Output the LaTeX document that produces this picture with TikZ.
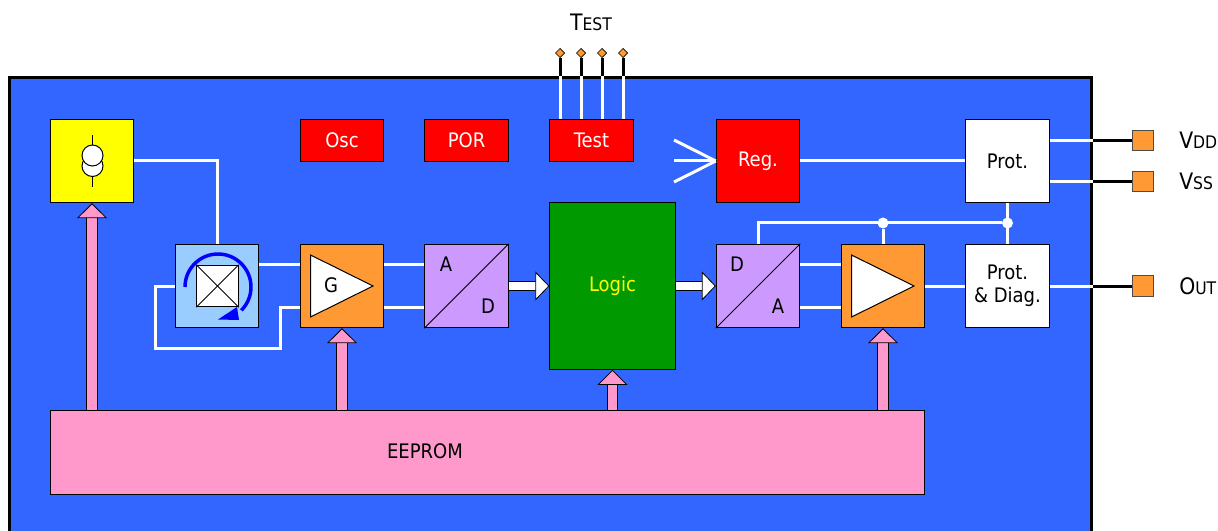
\documentclass[tikz,border=0pt]{standalone}
\usepackage{fontspec}
\setmainfont{DejaVu Sans Condensed}
\usetikzlibrary{arrows.meta,shapes.geometric}
\definecolor{chipblue}{HTML}{3366FF}
\definecolor{pinorange}{HTML}{FF9933}
\definecolor{adpurple}{HTML}{CC99FF}
\definecolor{prompink}{HTML}{FF99CC}
\definecolor{logicgreen}{HTML}{009900}
\definecolor{rotblue}{HTML}{99CCFF}
\definecolor{biasyellow}{HTML}{FFFF00}
\newcommand{\capsmall}[2]{{\fontsize{17}{20}\selectfont #1}{\fontsize{13}{15}\selectfont #2}}
\tikzset{
	block/.style={draw=black,line width=0.75pt,inner sep=0pt,minimum width=62.5pt,minimum height=62.5pt,text=black},
	redbox/.style={block,fill=red,text=white},
	lowbox/.style={redbox,minimum height=31.5pt},
	wire/.style={draw=white,line width=2.25pt},
	lead/.style={draw=black,line width=2.25pt},
	pad/.style={draw=black!70,fill=pinorange,line width=0.75pt,inner sep=0pt,minimum size=15.5pt},
	testpad/.style={diamond,draw=black,fill=pinorange,line width=0.5pt,inner sep=0pt,minimum size=7pt},
	joint/.style={circle,fill=white,inner sep=0pt,minimum size=8.25pt},
	plain/.style={draw=none,inner sep=0pt},
	amp/.style={draw=black,fill=white,line width=0.75pt},
	pinkarrow/.style={line width=0.6pt,draw=black,double=prompink,double distance=7.2pt,-{Triangle[length=11.25pt,width=22.5pt,fill=prompink,line width=0.6pt]}},
	whitearrow/.style={line width=0.6pt,draw=black,double=white,double distance=6.6pt,-{Triangle[length=10.5pt,width=21.75pt,fill=white,line width=0.6pt]}}
}
\begin{document}
\begin{tikzpicture}[x=0.75pt,y=-0.75pt,font=\fontsize{15}{18}\selectfont]
\clip (0,0) rectangle (1218,531);
\useasboundingbox (0,0) rectangle (1218,531);

\path (550,318) node[draw=black,line width=2.25pt,fill=chipblue,inner sep=0pt,minimum width=811.5pt,minimum height=360pt] (chip) {};

% top row
\path (92,161) node[block,fill=biasyellow] (bias) {};
\path (342,140.5) node[lowbox] (osc) {Osc};
\path (466.5,140.5) node[lowbox] (por) {POR};
\path (591.5,140.5) node[lowbox] (test) {Test};
\path (758,161) node[redbox] (reg) {Reg.};
\path (1007.5,161) node[block,fill=white] (prot) {Prot.};

% signal row
\path (217,286) node[block,fill=rotblue] (rot) {};
\path (342,286) node[block,fill=pinorange] (gain) {};
\path (466.5,286) node[block,fill=adpurple] (adc) {};
\path (612.5,286) node[block,fill=logicgreen,minimum width=94pt,minimum height=125pt,text=biasyellow] (logic) {Logic};
\path (758,286) node[block,fill=adpurple] (dac) {};
\path (883,286) node[block,fill=pinorange] (out) {};
\path (1007.5,286) node[block,fill=white,align=center] (diag) {Prot.\\[-1pt]\& Diag.};
\path (487,452.5) node[block,fill=prompink,minimum width=655.5pt] (eeprom) {};
\path (425,451) node[plain] (eepromtxt) {EEPROM};

% current source
\draw[line width=0.75pt] (92,135) -- (92,187);
\path (92.5,166) node[circle,amp,inner sep=0pt,minimum size=15.75pt] (srcb) {};
\path (92.5,155.5) node[circle,amp,inner sep=0pt,minimum size=15.75pt] (srca) {};

% rotator
\path (217.5,286) node[amp,inner sep=0pt,minimum size=31pt] (cell) {};
\draw[line width=0.75pt] (cell.north west) -- (cell.south east);
\draw[line width=0.75pt] (cell.south west) -- (cell.north east);
\draw[blue,line width=2.6pt] (185,287) arc (180:405:33);
\fill[blue] (218,319.5) -- (239,320) -- (237,307) -- cycle;

% amplifiers and converters
\draw[amp] (310.5,255) -- (373,286) -- (310.5,317) -- cycle;
\path (331,285) node[plain] (gtxt) {G};
\draw[amp] (851.5,255) -- (914,286) -- (851.5,317) -- cycle;
\draw[line width=0.75pt] (adc.south west) -- (adc.north east);
\path (446,264) node[plain] (atxt) {A};
\path (488,306) node[plain] (dtxt) {D};
\draw[line width=0.75pt] (dac.south west) -- (dac.north east);
\path (737,264) node[plain] (dtxt2) {D};
\path (778,306) node[plain] (atxt2) {A};

% wires
\draw[wire] (bias.east) -| (rot.north);
\draw[wire] (rot.west) -- (155,286) -- (155,348) -- (280,348) -- (280,307) -- (gain.west |- 280,307);
\draw[wire] (rot.east |- 0,265) -- (gain.west |- 0,265);
\foreach \y in {265,307}
{
	\draw[wire] (gain.east |- 0,\y) -- (adc.west |- 0,\y);
	\draw[wire] (dac.east |- 0,\y) -- (out.west |- 0,\y);
}
\foreach \y in {140,161,182}
{
	\coordinate (feed\y) at (674,\y);
	\draw[wire] (feed\y) -- (reg.west);
}
\draw[wire] (reg.east) -- (prot.west);
\draw[wire] (out.east) -- (diag.west);
\draw[wire] (prot.south) -- (diag.north);
\path (prot.south |- 0,223) node[joint] (railb) {};
\path (out.north |- 0,223) node[joint] (raila) {};
\draw[wire] (dac.north) |- (railb);
\draw[wire] (raila) -- (out.north);

% pads
\foreach \n/\y/\lbl in {vdd/140.5/{\capsmall{V}{DD}},vss/181.5/{\capsmall{V}{SS}},oout/286/{\capsmall{O}{UT}}}
{
	\path (1143,\y) node[pad] (\n) {};
	\path (1179,\y) node[plain,anchor=west] (\n txt) {\lbl};
	\draw[lead] (chip.east |- \n) -- (\n);
}
\draw[wire] (prot.east |- vdd) -- (chip.east |- vdd);
\draw[wire] (prot.east |- vss) -- (chip.east |- vss);
\draw[wire] (diag.east |- oout) -- (chip.east |- oout);

\foreach \x [count=\i] in {560,581,602,623}
{
	\path (\x,53) node[testpad] (tp\i) {};
	\draw[lead] (tp\i) -- (tp\i |- chip.north);
	\draw[wire] (tp\i |- chip.north) -- (tp\i |- test.north);
}
\path (591,22) node[plain] (testtxt) {\capsmall{T}{EST}};

% block arrows
\draw[pinkarrow] (eeprom.north -| bias) -- (bias.south);
\draw[pinkarrow] (eeprom.north -| gain) -- (gain.south);
\draw[pinkarrow] (eeprom.north -| logic) -- (logic.south);
\draw[pinkarrow] (eeprom.north -| out) -- (out.south);
\draw[whitearrow] (adc.east) -- (logic.west |- adc.east);
\draw[whitearrow] (logic.east |- dac.west) -- (dac.west);

\end{tikzpicture}
\end{document}
